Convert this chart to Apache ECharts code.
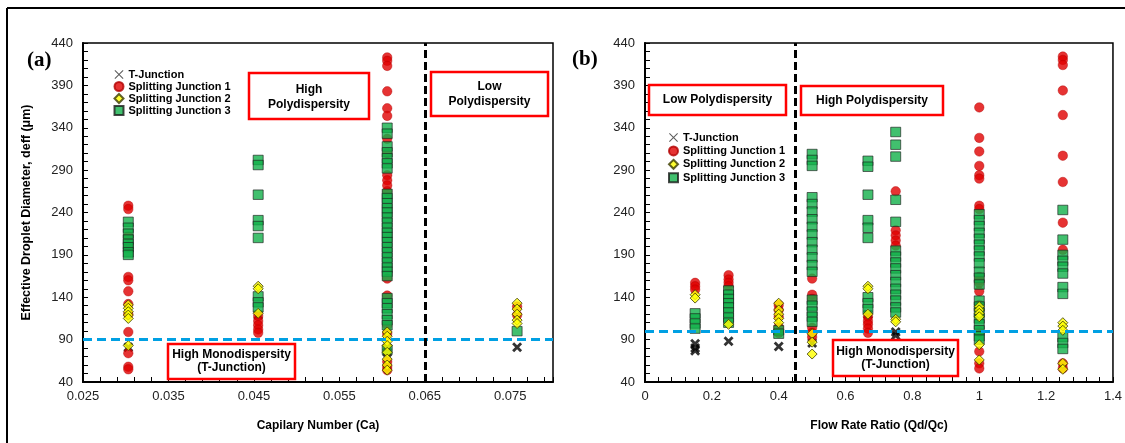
<!DOCTYPE html>
<html>
<head>
<meta charset="utf-8">
<title>Effective droplet diameter vs Ca and Qd/Qc</title>
<script src="https://cdn.jsdelivr.net/npm/echarts@6/dist/echarts.min.js"></script>
<style>
  html, body { margin: 0; padding: 0; background: #fff; }
  #chart { width: 1125px; height: 443px; }
</style>
</head>
<body>
<div id="chart"></div>
<script>
// ---- panel (a): capillary number, one list of diameters (um) per Ca level
const caLevels = [0.0303, 0.0455, 0.0606, 0.0758];
const caTJunction = [[81], [119], [80, 75], [81]];
const caSplit1 = [
  [248, 244, 212, 200, 164, 160, 147, 132, 120, 99, 74, 58, 55],
  [118, 112, 107, 102, 98],
  [423, 419, 413, 383, 363, 354, 327, 310, 284, 278, 272, 265, 162, 142, 107, 97, 64, 58, 54],
  [129, 119]
];
const caSplit2 = [
  [131, 127, 123, 119, 115, 83],
  [153, 150, 121],
  [99, 94, 88, 83, 75, 67, 60, 54],
  [133, 126, 120, 113, 109]
];
const caSplit3 = [
  [229, 222, 215, 208, 203, 199, 193, 190],
  [302, 296, 261, 231, 224, 210, 141, 134, 128],
  [340, 333, 318, 311, 304, 298, 292, 262, 257, 251, 245, 240, 234, 228, 222, 216, 211, 205,
   199, 193, 187, 181, 175, 170, 165, 139, 133, 127, 120, 113, 107, 78],
  [100]
];
const caOrigin = 0.025;      // first tick label of the Ca axis
const caEnd = 0.08;
const caThreshold = 0.065;   // black dashed split
const caMonoLine = 90;       // blue dashed level

// ---- panel (b): flow rate ratio
const qLevels = [0.15, 0.25, 0.4, 0.5, 0.667, 0.75, 1, 1.25];
const qTJunction = [[85, 80, 77], [88], [82], [86], [120], [99, 95], [121], []];
const qSplit1 = [
  [157, 153, 149],
  [166, 161, 157, 153],
  [131, 125, 117, 105, 98],
  [162, 143, 138, 104, 98, 93],
  [117, 112, 108, 103, 98],
  [265, 219, 213, 207, 201],
  [364, 328, 312, 295, 284, 280, 248, 244, 164, 160, 157, 147, 131, 99, 76, 62, 56],
  [424, 420, 414, 384, 355, 307, 276, 228, 196, 62, 56]
];
const qSplit2 = [
  [143, 139],
  [108],
  [133, 125, 120, 115, 110],
  [97, 87, 73],
  [153, 150, 120],
  [114, 111],
  [129, 125, 121, 117, 84, 66],
  [110, 106, 101, 62, 55]
];
const qSplit3 = [
  [121, 115, 109, 103],
  [148, 143, 138, 133, 128, 122, 116, 110],
  [101, 97],
  [309, 302, 295, 258, 250, 241, 232, 223, 214, 205, 196, 187, 178, 170, 137, 130, 123, 117, 111],
  [301, 294, 261, 231, 222, 210, 140, 133, 126],
  [335, 320, 306, 255, 229, 195, 188, 181, 174, 166, 158, 150, 143, 136, 128, 122],
  [238, 231, 224, 216, 209, 202, 195, 188, 180, 170, 163, 155, 136, 129, 122, 115, 108, 101, 94, 90],
  [243, 208, 190, 183, 176, 168, 152, 144, 93, 86, 79]
];
const qThreshold = 0.45;
const qMonoLine = 100;

const yMin = 40, yMax = 440, yStep = 50;

const FONT = 'Arial, "Liberation Sans", sans-serif';
const X_BOLD = 'path://M0,2L2,0L5,3L8,0L10,2L7,5L10,8L8,10L5,7L2,10L0,8L3,5Z';
const X_THIN = 'path://M0,0.8L0.8,0L5,4.2L9.2,0L10,0.8L5.8,5L10,9.2L9.2,10L5,5.8L0.8,10L0,9.2L4.2,5Z';

function onStep(v, step) {
  const k = v / step;
  return Math.abs(k - Math.round(k)) < 1e-6;
}

function toPoints(levels, groups, shift) {
  const out = [];
  levels.forEach((x, i) => groups[i].forEach(y => out.push([+(x - shift).toFixed(6), y])));
  return out;
}

function yAxis(gridIndex, name) {
  return {
    type: 'value', gridIndex: gridIndex, min: yMin, max: yMax, interval: 10,
    name: name, nameLocation: 'middle', nameGap: 50, nameRotate: 90,
    nameTextStyle: { fontFamily: FONT, fontWeight: 'bold', fontSize: 12.5, color: '#000' },
    axisLine: { show: true, lineStyle: { color: '#000', width: 2 } },
    axisTick: { show: true, inside: true, length: 5, lineStyle: { color: '#000' } },
    axisLabel: {
      margin: 10, fontFamily: FONT, fontSize: 13, color: '#222',
      formatter: v => onStep(v - yMin, yStep) ? String(Math.round(v)) : ''
    },
    splitLine: { show: false }
  };
}

function markerSeries(gi, tj, s1, s2, s3, levels, shift) {
  const base = { type: 'scatter', xAxisIndex: gi, yAxisIndex: gi, animation: false, emphasis: { disabled: true } };
  return [
    Object.assign({}, base, {
      name: 'T-Junction', symbol: X_BOLD, symbolSize: 10, z: 1,
      itemStyle: { color: '#000' },
      data: toPoints(levels, tj, shift)
    }),
    Object.assign({}, base, {
      name: 'Splitting Junction 1', symbol: 'circle', symbolSize: 9.5, z: 2,
      itemStyle: { color: '#e00000', borderColor: '#b00000', borderWidth: 0.5 },
      data: toPoints(levels, s1, shift)
    }),
    Object.assign({}, base, {
      name: 'Splitting Junction 3', symbol: 'rect', symbolSize: [10, 9.5], z: 3,
      itemStyle: { color: '#12b04a', borderColor: '#1a1a1a', borderWidth: 0.8 },
      data: toPoints(levels, s3, shift)
    }),
    Object.assign({}, base, {
      name: 'Splitting Junction 2', symbol: 'diamond', symbolSize: [10, 10], z: 4,
      itemStyle: { color: '#ffff00', borderColor: '#3a3a00', borderWidth: 1 },
      data: toPoints(levels, s2, shift)
    })
  ];
}

function limitSeries(gi, xLine, yLine) {
  return {
    type: 'scatter', name: 'limits', xAxisIndex: gi, yAxisIndex: gi, data: [], z: 6, silent: true,
    markLine: {
      silent: true, animation: false, symbol: ['none', 'none'], label: { show: false },
      data: [
        { yAxis: yLine, lineStyle: { color: '#00a0e3', width: 3, type: [9, 5] } },
        { xAxis: xLine, lineStyle: { color: '#000', width: 3, type: [8, 4] } }
      ]
    }
  };
}

function legend(left, top, gap) {
  return {
    left: left, top: top, orient: 'vertical', itemWidth: 9, itemHeight: 9, itemGap: gap,
    selectedMode: false,
    textStyle: { fontFamily: FONT, fontSize: 11, fontWeight: 'bold', color: '#000' },
    data: [
      { name: 'T-Junction', icon: X_THIN, itemStyle: { color: '#333' } },
      { name: 'Splitting Junction 1' },
      { name: 'Splitting Junction 2' },
      { name: 'Splitting Junction 3' }
    ]
  };
}

function box(x, y, w, h, lines, cy, lh) {
  return [
    { type: 'rect', shape: { x: x, y: y, width: w, height: h }, z: 20,
      style: { fill: '#fff', stroke: '#ff0000', lineWidth: 2.5 } },
    { type: 'text', z: 21,
      style: { text: lines.join('\n'), x: x + w / 2, y: cy, align: 'center', verticalAlign: 'middle',
               font: 'bold 12px ' + FONT, fill: '#000', lineHeight: lh } }
  ];
}

const chart = echarts.init(document.getElementById('chart'), null, { renderer: 'canvas' });

chart.setOption({
  backgroundColor: '#fff',
  animation: false,
  grid: [
    { left: 83, top: 43, width: 470, height: 339, show: true, borderColor: '#000', borderWidth: 1.5, backgroundColor: 'transparent' },
    { left: 645, top: 43, width: 470, height: 339, show: true, borderColor: '#000', borderWidth: 1.5, backgroundColor: 'transparent' }
  ],
  xAxis: [
    {
      type: 'value', gridIndex: 0, min: 0, max: +(caEnd - caOrigin).toFixed(6), interval: 0.002,
      name: 'Capilary Number (Ca)', nameLocation: 'middle', nameGap: 38,
      nameTextStyle: { fontFamily: FONT, fontWeight: 'bold', fontSize: 12, color: '#000' },
      axisLine: { onZero: false, lineStyle: { color: '#000', width: 2 } },
      axisTick: { inside: true, length: 5, lineStyle: { color: '#000' } },
      axisLabel: {
        margin: 8, fontFamily: FONT, fontSize: 13, color: '#222',
        formatter: v => onStep(v, 0.01) ? (v + caOrigin).toFixed(3) : ''
      },
      splitLine: { show: false }
    },
    {
      type: 'value', gridIndex: 1, min: 0, max: 1.4, interval: 0.04,
      name: 'Flow Rate Ratio (Qd/Qc)', nameLocation: 'middle', nameGap: 38,
      nameTextStyle: { fontFamily: FONT, fontWeight: 'bold', fontSize: 12, color: '#000' },
      axisLine: { onZero: false, lineStyle: { color: '#000', width: 2 } },
      axisTick: { inside: true, length: 5, lineStyle: { color: '#000' } },
      axisLabel: {
        margin: 8, fontFamily: FONT, fontSize: 13, color: '#222',
        formatter: v => onStep(v, 0.2) ? String(Math.round(v * 10) / 10) : ''
      },
      splitLine: { show: false }
    }
  ],
  yAxis: [yAxis(0, 'Effective Droplet Diameter, deff (μm)'), yAxis(1, '')],
  legend: [legend(108.5, 64, 1), legend(663, 127, 2.4)],
  series: [].concat(
    markerSeries(0, caTJunction, caSplit1, caSplit2, caSplit3, caLevels, caOrigin),
    [limitSeries(0, +(caThreshold - caOrigin).toFixed(6), caMonoLine)],
    markerSeries(1, qTJunction, qSplit1, qSplit2, qSplit3, qLevels, 0),
    [limitSeries(1, qThreshold, qMonoLine)]
  ),
  graphic: [].concat(
    [
      { type: 'line', shape: { x1: 7, y1: 8, x2: 1125, y2: 8 }, style: { stroke: '#000', lineWidth: 2 } },
      { type: 'line', shape: { x1: 7, y1: 8, x2: 7, y2: 443 }, style: { stroke: '#000', lineWidth: 2 } },
      { type: 'text', style: { text: '(a)', x: 27, y: 61, verticalAlign: 'middle', font: 'bold 21px "Liberation Serif", "DejaVu Serif", serif', fill: '#000' } },
      { type: 'text', style: { text: '(b)', x: 572, y: 60, verticalAlign: 'middle', font: 'bold 21px "Liberation Serif", "DejaVu Serif", serif', fill: '#000' } }
    ],
    box(249, 73, 120, 46, ['High', 'Polydispersity'], 97, 15),
    box(431, 72, 117, 44, ['Low', 'Polydispersity'], 94, 15),
    box(168, 344, 127, 35, ['High Monodispersity', '(T-Junction)'], 361, 13),
    box(649, 85, 137, 30, ['Low Polydispersity'], 100, 14),
    box(801, 86, 142, 29, ['High Polydispersity'], 100.5, 14),
    box(833, 340, 125, 36, ['High Monodispersity', '(T-Junction)'], 358, 13)
  )
});
</script>
</body>
</html>
